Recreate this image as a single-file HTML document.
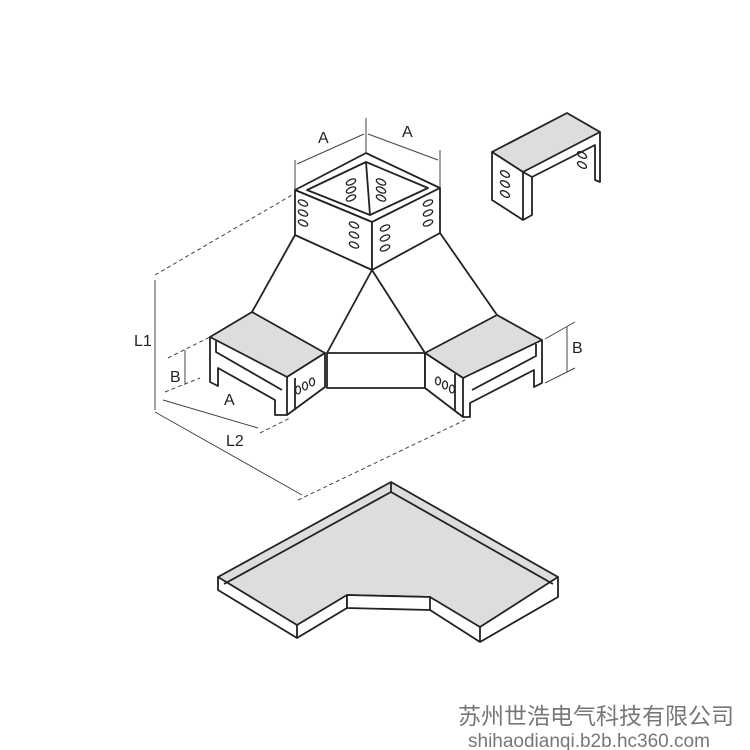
<!DOCTYPE html>
<html><head><meta charset="utf-8"><style>
html,body{margin:0;padding:0;background:#fff;width:750px;height:750px;overflow:hidden}
svg{display:block}
</style></head><body>
<svg width="750" height="750" viewBox="0 0 750 750" xmlns="http://www.w3.org/2000/svg">
<g fill="none" stroke="#222" stroke-width="1.8" stroke-linejoin="round">
<!-- top box -->
<polygon points="366,153 440,188 372,222 295,190" fill="#fff"/>
<polygon points="366,162 428,188 370,215 307,190"/>
<line x1="366" y1="162" x2="370" y2="215"/>
<polygon points="295,190 372,222 372,270 295,235" fill="#fff"/>
<polygon points="440,188 372,222 372,270 440,233" fill="#fff"/>
<!-- legs -->
<line x1="295" y1="235" x2="252" y2="312"/>
<line x1="440" y1="233" x2="497" y2="315"/>
<line x1="372" y1="270" x2="327" y2="353"/>
<line x1="372" y1="270" x2="425" y2="353"/>
<polygon points="327,353 425,353 425,388 327,388"/>
<!-- left tray -->
<polygon points="252,312 325,353 287,377 210,337" fill="#ddd"/>
<polygon points="287,377 325,353 325,387 287,415" fill="#fff"/>
<line x1="295" y1="378" x2="295" y2="410"/>
<polyline points="210,337 210,382 218,386 218,368 275,400 275,415 287,415"/>
<polyline points="216,341 216,352 282,390"/>
<!-- right tray -->
<polygon points="497,315 542,340 463,378 425,353" fill="#ddd"/>
<polygon points="425,353 463,378 463,417 425,388" fill="#fff"/>
<line x1="455" y1="374" x2="455" y2="410"/>
<polyline points="542,340 542,383 534,387 534,370 470,403 470,417 463,417"/>
<polyline points="536,344 536,356 472,390"/>
<!-- cover -->
<polygon points="492,152 567,113 600,132 523,172" fill="#ddd"/>
<polygon points="492,152 523,172 523,220 492,200" fill="#fff"/>
<polyline points="523,172 532,177 532,215 523,220"/>
<polyline points="600,132 600,182 595,180 595,145 532,177"/>
<!-- bottom tray -->
<polygon points="391,482 558,577 480,627 430,597 347,595 297,625 218,577" fill="#ddd"/>
<polyline points="224,584 391,492 553,584"/>
<line x1="391" y1="482" x2="391" y2="492"/>
<polyline points="218,577 218,590 297,638 297,625"/>
<polyline points="297,638 347,608 347,595"/>
<polygon points="347,595 430,597 430,610 347,608" fill="#fff"/>
<polyline points="430,610 480,642 480,627"/>
<polyline points="480,642 558,597 558,577"/>
</g>
<!-- slots -->
<g fill="none" stroke="#222" stroke-width="1.3">
<ellipse cx="303" cy="203" rx="5" ry="2.5" transform="rotate(25 303 203)"/>
<ellipse cx="303" cy="213" rx="5" ry="2.5" transform="rotate(25 303 213)"/>
<ellipse cx="303" cy="223" rx="5" ry="2.5" transform="rotate(25 303 223)"/>
<ellipse cx="354" cy="225" rx="5" ry="2.5" transform="rotate(25 354 225)"/>
<ellipse cx="354" cy="235" rx="5" ry="2.5" transform="rotate(25 354 235)"/>
<ellipse cx="354" cy="245" rx="5" ry="2.5" transform="rotate(25 354 245)"/>
<ellipse cx="385" cy="228" rx="5" ry="2.5" transform="rotate(-25 385 228)"/>
<ellipse cx="385" cy="238" rx="5" ry="2.5" transform="rotate(-25 385 238)"/>
<ellipse cx="385" cy="248" rx="5" ry="2.5" transform="rotate(-25 385 248)"/>
<ellipse cx="428" cy="203" rx="5" ry="2.5" transform="rotate(-25 428 203)"/>
<ellipse cx="428" cy="213" rx="5" ry="2.5" transform="rotate(-25 428 213)"/>
<ellipse cx="428" cy="223" rx="5" ry="2.5" transform="rotate(-25 428 223)"/>
<ellipse cx="351" cy="182" rx="5" ry="2.5" transform="rotate(-25 351 182)"/>
<ellipse cx="351" cy="190" rx="5" ry="2.5" transform="rotate(-25 351 190)"/>
<ellipse cx="351" cy="198" rx="5" ry="2.5" transform="rotate(-25 351 198)"/>
<ellipse cx="381" cy="182" rx="5" ry="2.5" transform="rotate(25 381 182)"/>
<ellipse cx="381" cy="190" rx="5" ry="2.5" transform="rotate(25 381 190)"/>
<ellipse cx="381" cy="198" rx="5" ry="2.5" transform="rotate(25 381 198)"/>
<ellipse cx="505" cy="174" rx="5" ry="2.5" transform="rotate(30 505 174)"/>
<ellipse cx="505" cy="184" rx="5" ry="2.5" transform="rotate(30 505 184)"/>
<ellipse cx="505" cy="194" rx="5" ry="2.5" transform="rotate(30 505 194)"/>
<ellipse cx="582" cy="155" rx="5" ry="2.5" transform="rotate(30 582 155)"/>
<ellipse cx="582" cy="165" rx="5" ry="2.5" transform="rotate(30 582 165)"/>
<ellipse cx="298" cy="390" rx="2.5" ry="4"/><ellipse cx="305" cy="386" rx="2.5" ry="4"/><ellipse cx="312" cy="382" rx="2.5" ry="4"/>
<ellipse cx="438" cy="381" rx="2.5" ry="4"/><ellipse cx="445" cy="385" rx="2.5" ry="4"/><ellipse cx="452" cy="389" rx="2.5" ry="4"/>
</g>
<!-- dimension lines -->
<g stroke="#444" stroke-width="1" fill="none">
<line x1="295" y1="190" x2="295" y2="160"/>
<line x1="366" y1="153" x2="366" y2="118"/>
<line x1="440" y1="188" x2="440" y2="150"/>
<line x1="297" y1="164" x2="364" y2="134"/>
<line x1="368" y1="134" x2="438" y2="160"/>
<line x1="155" y1="280" x2="155" y2="410"/>
<line x1="155" y1="275" x2="292" y2="195" stroke-dasharray="4,3"/>
<line x1="185" y1="350" x2="185" y2="385"/>
<line x1="168" y1="358" x2="210" y2="337" stroke-dasharray="4,3"/>
<line x1="165" y1="392" x2="200" y2="378" stroke-dasharray="4,3"/>
<line x1="163" y1="400" x2="258" y2="428"/>
<line x1="260" y1="433" x2="290" y2="418" stroke-dasharray="4,3"/>
<line x1="155" y1="412" x2="302" y2="495"/>
<line x1="298" y1="500" x2="465" y2="420" stroke-dasharray="4,3"/>
<line x1="567" y1="327" x2="567" y2="372"/>
<line x1="545" y1="339" x2="575" y2="322"/>
<line x1="545" y1="383" x2="575" y2="368"/>
</g>
<g fill="#222" font-family="Liberation Sans, sans-serif" font-size="16">
<text x="318" y="143">A</text>
<text x="402" y="137">A</text>
<text x="134" y="346">L1</text>
<text x="170" y="382">B</text>
<text x="224" y="405">A</text>
<text x="226" y="446">L2</text>
<text x="572" y="353">B</text>
</g>
<text x="458" y="724" font-family="Liberation Sans, Noto Sans CJK SC, sans-serif" font-size="23" fill="#777">苏州世浩电气科技有限公司</text>
<text x="468" y="747" font-family="Liberation Sans, sans-serif" font-size="19" fill="#777">shihaodianqi.b2b.hc360.com</text>
</svg>
</body></html>
